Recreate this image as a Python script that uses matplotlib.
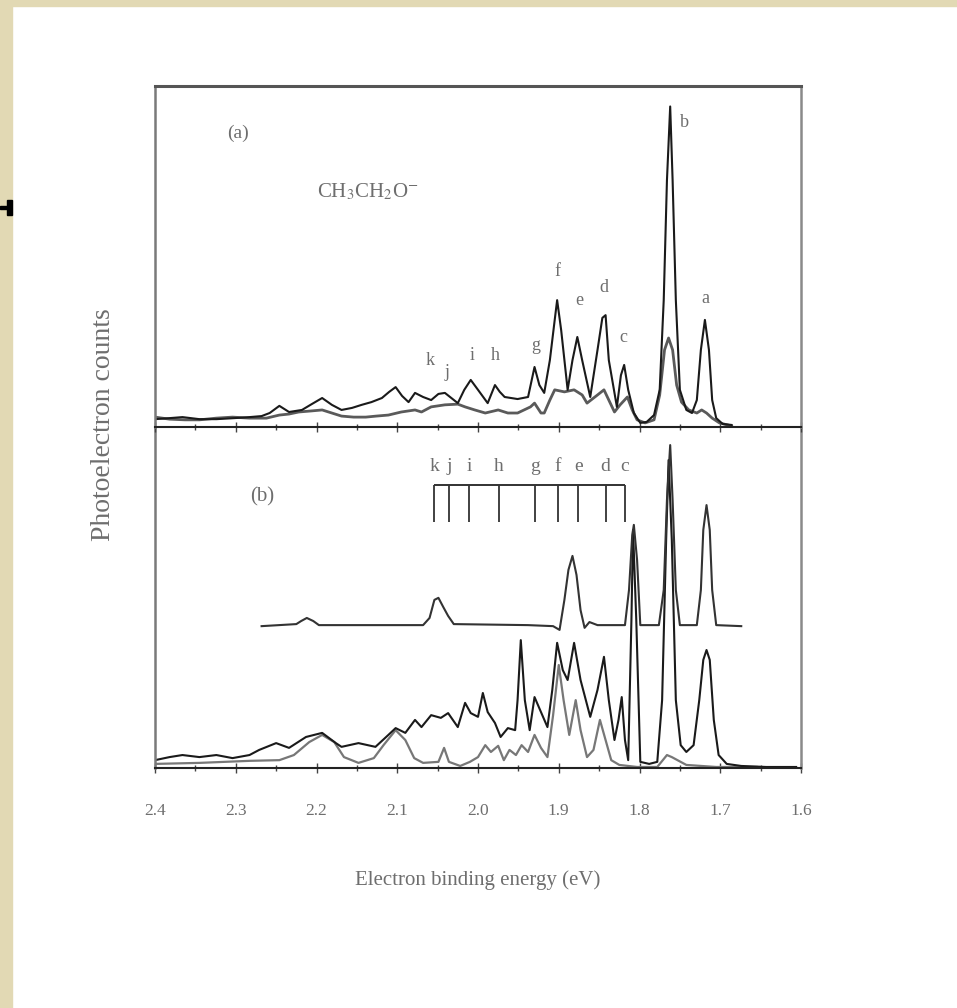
import numpy as np
import matplotlib
matplotlib.use("Agg")
import matplotlib.pyplot as plt
from matplotlib.patches import Rectangle

plt.rcParams['font.family'] = ['Liberation Serif', 'DejaVu Serif']

# panel (a): two photoelectron spectra (binding energy in eV, counts in arb. units)
a1_ev = [2.400, 2.382, 2.366, 2.345, 2.324, 2.302, 2.283, 2.268, 2.258, 2.246, 2.234, 2.218,
         2.206, 2.193, 2.181, 2.169, 2.156, 2.144, 2.132, 2.119, 2.110, 2.102, 2.094, 2.086,
         2.078, 2.068, 2.058, 2.049, 2.041, 2.033, 2.025, 2.017, 2.009, 2.000, 1.988, 1.979,
         1.973, 1.967, 1.951, 1.938, 1.930, 1.924, 1.918, 1.911, 1.905, 1.902, 1.897, 1.889,
         1.883, 1.877, 1.871, 1.861, 1.852, 1.846, 1.842, 1.838, 1.828, 1.823, 1.819, 1.814,
         1.807, 1.799, 1.791, 1.782, 1.775, 1.770, 1.766, 1.762, 1.759, 1.755, 1.750, 1.742,
         1.735, 1.729, 1.724, 1.719, 1.714, 1.710, 1.705, 1.697, 1.686]
a1_cnt = [2.3, 2.6, 2.9, 2.3, 2.3, 2.6, 2.9, 3.2, 4.1, 6.2, 4.4, 5.0,
          6.7, 8.5, 6.5, 5.0, 5.6, 6.5, 7.3, 8.5, 10.3, 11.7, 9.1, 7.3,
          10.0, 8.8, 7.9, 9.7, 10.0, 8.5, 7.0, 10.9, 13.8, 10.9, 7.0, 12.3,
          10.3, 8.8, 8.2, 8.8, 17.6, 12.3, 10.0, 19.6, 31.4, 37.2, 28.4, 10.9,
          19.6, 26.4, 19.6, 8.8, 22.6, 32.0, 32.8, 19.6, 5.9, 15.2, 18.2, 10.9,
          4.1, 1.2, 1.5, 3.5, 10.9, 37.2, 72.4, 94.0, 72.4, 37.2, 10.9, 5.0,
          4.1, 7.9, 22.6, 31.4, 22.6, 7.9, 2.6, 0.9, 0.6]

a2_ev = [2.400, 2.382, 2.363, 2.345, 2.324, 2.304, 2.283, 2.262, 2.246, 2.234, 2.222, 2.207,
         2.193, 2.181, 2.169, 2.154, 2.139, 2.126, 2.111, 2.095, 2.078, 2.070, 2.058, 2.041,
         2.025, 2.016, 2.004, 1.991, 1.975, 1.963, 1.951, 1.935, 1.930, 1.922, 1.918, 1.911,
         1.905, 1.893, 1.881, 1.871, 1.865, 1.852, 1.844, 1.838, 1.831, 1.824, 1.815, 1.809,
         1.803, 1.793, 1.782, 1.775, 1.769, 1.764, 1.759, 1.754, 1.748, 1.739, 1.729, 1.723,
         1.717, 1.710, 1.701, 1.686]
a2_cnt = [2.9, 2.3, 2.1, 2.1, 2.6, 2.9, 2.6, 2.6, 3.5, 3.8, 4.4, 4.7,
          5.0, 4.1, 3.2, 2.9, 2.9, 3.2, 3.5, 4.4, 5.0, 4.4, 5.9, 6.5,
          6.7, 5.9, 5.0, 4.1, 5.0, 4.1, 4.1, 5.9, 7.0, 4.1, 4.1, 7.9,
          10.9, 10.3, 10.9, 9.4, 7.0, 9.4, 10.9, 7.9, 4.4, 6.5, 8.8, 5.0,
          2.1, 1.2, 2.1, 9.4, 22.6, 26.1, 22.6, 12.3, 7.3, 5.0, 4.1, 5.0,
          4.1, 2.6, 1.2, 0.3]

# panel (b): offset spectrum on top, two spectra below
b1_ev = [2.268, 2.225, 2.219, 2.212, 2.204, 2.197, 2.068, 2.060, 2.054, 2.049, 2.043, 2.037,
         2.030, 1.938, 1.907, 1.899, 1.893, 1.888, 1.883, 1.878, 1.873, 1.868, 1.862, 1.852,
         1.818, 1.813, 1.809, 1.807, 1.803, 1.799, 1.776, 1.770, 1.766, 1.762, 1.759, 1.755,
         1.750, 1.729, 1.724, 1.721, 1.717, 1.713, 1.710, 1.705, 1.674]
b1_cnt = [41.6, 42.2, 43.1, 44.0, 43.1, 41.9, 41.9, 44.0, 49.3, 49.9, 47.2, 44.6,
          42.2, 41.9, 41.6, 40.5, 49.3, 58.1, 62.2, 56.6, 46.3, 41.1, 42.8, 41.9,
          41.9, 52.2, 68.3, 71.3, 61.0, 41.9, 41.9, 52.2, 78.6, 94.7, 78.6, 52.2,
          41.9, 41.9, 52.2, 69.8, 77.1, 69.8, 52.2, 41.9, 41.6]

b2_ev = [2.400, 2.382, 2.366, 2.345, 2.324, 2.304, 2.283, 2.271, 2.250, 2.234, 2.213, 2.193,
         2.176, 2.169, 2.148, 2.127, 2.111, 2.102, 2.090, 2.078, 2.070, 2.058, 2.046, 2.037,
         2.025, 2.016, 2.009, 2.000, 1.994, 1.988, 1.979, 1.972, 1.963, 1.954, 1.951, 1.947,
         1.942, 1.936, 1.930, 1.922, 1.914, 1.908, 1.902, 1.895, 1.889, 1.881, 1.873, 1.861,
         1.852, 1.844, 1.838, 1.831, 1.826, 1.822, 1.818, 1.814, 1.810, 1.808, 1.804, 1.799,
         1.788, 1.778, 1.772, 1.767, 1.764, 1.760, 1.755, 1.749, 1.742, 1.733, 1.726, 1.721,
         1.717, 1.713, 1.708, 1.702, 1.692, 1.674, 1.643, 1.606]
b2_cnt = [2.3, 3.2, 3.8, 3.2, 3.8, 2.9, 3.8, 5.3, 7.3, 5.9, 9.1, 10.3,
          7.3, 6.2, 7.3, 6.2, 9.7, 11.7, 10.3, 14.1, 12.0, 15.5, 14.7, 16.1,
          12.0, 19.1, 16.1, 15.0, 22.0, 16.4, 13.2, 9.1, 11.7, 11.1, 19.9, 37.5,
          19.9, 11.1, 20.8, 16.4, 12.0, 22.9, 36.7, 28.7, 25.8, 36.7, 25.8, 15.0,
          22.9, 32.6, 19.9, 8.2, 14.1, 20.8, 8.2, 2.3, 43.4, 69.8, 43.4, 1.8,
          1.2, 1.8, 19.9, 66.9, 90.3, 66.9, 19.9, 6.7, 4.7, 6.7, 19.9, 31.7,
          34.6, 31.7, 14.1, 3.8, 1.2, 0.6, 0.3, 0.3]

b3_ev = [2.400, 2.345, 2.283, 2.246, 2.228, 2.209, 2.193, 2.178, 2.166, 2.148, 2.129, 2.117,
         2.102, 2.090, 2.079, 2.068, 2.049, 2.042, 2.036, 2.022, 2.010, 2.000, 1.991, 1.984,
         1.975, 1.968, 1.961, 1.953, 1.946, 1.938, 1.930, 1.922, 1.914, 1.907, 1.900, 1.894,
         1.887, 1.879, 1.873, 1.865, 1.857, 1.849, 1.842, 1.835, 1.825, 1.803, 1.778, 1.766,
         1.760, 1.742, 1.705, 1.655]
b3_cnt = [1.2, 1.5, 2.1, 2.3, 3.8, 7.6, 9.7, 7.6, 3.2, 1.5, 2.9, 6.7,
          11.1, 8.2, 2.9, 1.5, 1.8, 5.9, 1.8, 0.6, 1.8, 3.2, 6.7, 4.7,
          6.5, 2.3, 5.3, 3.8, 6.7, 4.7, 9.7, 5.9, 3.2, 15.5, 30.2, 19.9,
          9.7, 19.9, 11.1, 3.2, 5.3, 14.1, 8.2, 2.3, 0.9, 0.3, 0.3, 3.8,
          3.2, 0.9, 0.3, 0.3]

# peak labels, panel (a)
peak_names = ['k', 'j', 'i', 'h', 'g', 'f', 'e', 'd', 'c', 'b', 'a']
peak_lab_ev = [2.059, 2.038, 2.007, 1.979, 1.929, 1.902, 1.874, 1.844, 1.820, 1.744, 1.718]
peak_lab_cnt = [19.6, 16.1, 21.1, 21.1, 24.0, 45.5, 37.2, 40.8, 26.1, 89.4, 37.8]

# stick progression, panel (b)
stick_names = ['k', 'j', 'i', 'h', 'g', 'f', 'e', 'd', 'c']
stick_ev = [2.054, 2.036, 2.011, 1.974, 1.930, 1.901, 1.876, 1.842, 1.818]

xticks = [2.4, 2.3, 2.2, 2.1, 2.0, 1.9, 1.8, 1.7, 1.6]

W, H = 957, 1008
fig = plt.figure(figsize=(W / 100, H / 100), dpi=100)
fig.patch.set_facecolor('white')

# scanned page edge
edge = '#e2d9b4'
fig.add_artist(Rectangle((0, 0), 12 / W, 1, transform=fig.transFigure, color=edge, zorder=0))
fig.add_artist(Rectangle((0, 1 - 6 / H), 1, 6 / H, transform=fig.transFigure, color=edge, zorder=0))
fig.add_artist(Rectangle((0, 1 - 209 / H), 7 / W, 3 / H, transform=fig.transFigure, color='black'))
fig.add_artist(Rectangle((7 / W, 1 - 215 / H), 5 / W, 15 / H, transform=fig.transFigure, color='black'))

left, width = 155 / W, 646 / W
ph = 341 / H
ax_b = fig.add_axes([left, 1 - 768 / H, width, ph])
ax_a = fig.add_axes([left, 1 - 427 / H, width, ph], sharex=ax_b)

txt = '#6e6e6e'
for ax in (ax_a, ax_b):
    ax.set_xlim(2.4, 1.6)
    ax.set_ylim(0, 100)
    ax.set_yticks([])
    ax.set_xticks(xticks)
    ax.set_xticks(np.arange(1.6, 2.41, 0.05), minor=True)
    ax.tick_params(axis='x', which='major', direction='inout', length=7, width=1, color='#444',
                   labelsize=12.5, labelcolor=txt, pad=22)
    ax.tick_params(axis='x', which='minor', direction='inout', length=5, width=1, color='#444')
    ax.spines['left'].set_color('#7a7a7a')
    ax.spines['left'].set_linewidth(1.8)
    ax.spines['right'].set_color('#8a8a8a')
    ax.spines['right'].set_linewidth(1.8)
    ax.spines['bottom'].set_color('#222222')
    ax.spines['bottom'].set_linewidth(1.5)

ax_a.spines['top'].set_color('#555555')
ax_a.spines['top'].set_linewidth(2.2)
ax_b.spines['top'].set_visible(False)
ax_a.tick_params(axis='x', labelbottom=False)
ax_b.set_xticklabels([f'{t:.1f}' for t in xticks])

# panel (a)
ax_a.plot(a2_ev, a2_cnt, color='#5a5a5a', lw=2.0)
ax_a.plot(a1_ev, a1_cnt, color='#1a1a1a', lw=1.5)
for name, x, y in zip(peak_names, peak_lab_ev, peak_lab_cnt):
    ax_a.text(x, y, name, ha='center', va='center', fontsize=13, color=txt)
ax_a.text(0.128, 0.862, '(a)', transform=ax_a.transAxes, ha='center', va='center',
          fontsize=14, color=txt)
ax_a.text(0.33, 0.689, r'CH$_3$CH$_2$O$^{-}$', transform=ax_a.transAxes, ha='center',
          va='center', fontsize=15, color=txt, math_fontfamily='stix')

# panel (b)
ax_b.plot(b3_ev, b3_cnt, color='#777777', lw=1.6)
ax_b.plot(b2_ev, b2_cnt, color='#1a1a1a', lw=1.5)
ax_b.plot(b1_ev, b1_cnt, color='#333333', lw=1.5)
ax_b.hlines(83.0, stick_ev[0], stick_ev[-1], color='#222222', lw=1.3)
ax_b.vlines(stick_ev, 72.1, 83.0, color='#333333', lw=1.3)
for name, x in zip(stick_names, stick_ev):
    ax_b.text(x, 88.3, name, ha='center', va='center', fontsize=14, color=txt)
ax_b.text(0.166, 0.795, '(b)', transform=ax_b.transAxes, ha='center', va='center',
          fontsize=15, color=txt)

ax_b.set_xlabel('Electron binding energy (eV)', fontsize=15, color=txt)
ax_b.xaxis.set_label_coords(0.5, -0.30)
fig.text(103 / W, 1 - 425 / H, 'Photoelectron counts', rotation=90, ha='center', va='center',
         fontsize=20, color=txt)

fig.savefig('out.png', dpi=100, facecolor=fig.get_facecolor())
